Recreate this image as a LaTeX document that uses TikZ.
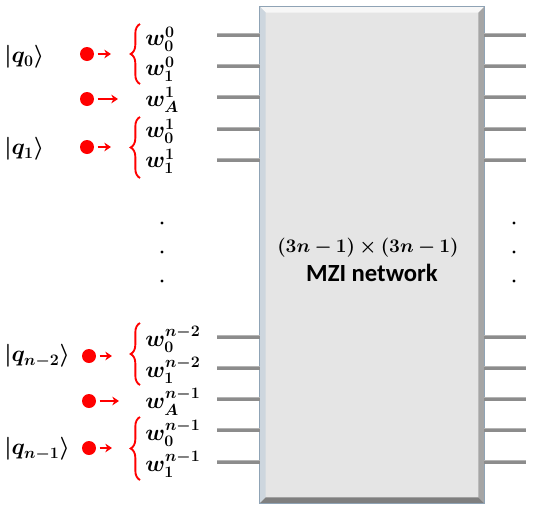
\documentclass[tikz,border=0pt]{standalone}
\usepackage{amsmath,bm}
\usepackage{fontspec}
\newfontfamily\labelfont{Carlito}
\usepackage{tikz}
\usetikzlibrary{arrows.meta,calc,positioning,decorations.pathreplacing}
\definecolor{boxfill}{HTML}{E5E5E5}
\definecolor{boxedge}{HTML}{8FA3B5}
\definecolor{bevdark}{HTML}{7F7F7F}
\definecolor{bevlight}{HTML}{F7F7F7}
\definecolor{portgray}{HTML}{8C8C8C}
\definecolor{porthilite}{HTML}{B4B4B4}
\definecolor{red}{HTML}{FF0000}
\tikzset{
  mzibox/.style={draw=boxedge,fill=boxfill,line width=.6pt,inner sep=0pt,minimum width=168pt,minimum height=372pt},
  port/.style={draw=portgray,line width=2.8pt},
  porthi/.style={draw=porthilite,line width=.8pt},
  qlabel/.style={font=\fontsize{17.5}{19}\selectfont,anchor=west,inner sep=0pt},
  wlabel/.style={font=\fontsize{16.5}{18}\selectfont,anchor=west,inner sep=0pt},
  photon/.style={circle,fill=red,inner sep=0pt,minimum size=10.5pt},
  feed/.style={-{Stealth[length=5pt,width=6.5pt]},draw=red,line width=1.8pt,shorten <=2.5pt},
  rbrace/.style={draw=red,line width=1.4pt,decorate,decoration={brace,amplitude=7pt}},
  vdot/.style={circle,fill=black,inner sep=0pt,minimum size=2.6pt}
}
\begin{document}
\begin{tikzpicture}[x=.75pt,y=-.75pt]
  \useasboundingbox (0,0) rectangle (539,511);
  % network block with bevelled edges
  \node[mzibox] (mzi) at (372,255) {};
  \fill[bevlight] (mzi.north west) -- (mzi.north east) -- ($(mzi.north east)+(-6,6)$) -- ($(mzi.north west)+(6,6)$) -- cycle;
  \fill[boxedge!45] (mzi.north west) -- ($(mzi.north west)+(6,6)$) -- ($(mzi.south west)+(6,-6)$) -- (mzi.south west) -- cycle;
  \fill[bevdark!70] (mzi.north east) -- ($(mzi.north east)+(-6,6)$) -- ($(mzi.south east)+(-6,-6)$) -- (mzi.south east) -- cycle;
  \fill[bevdark] (mzi.south west) -- ($(mzi.south west)+(6,-6)$) -- ($(mzi.south east)+(-6,-6)$) -- (mzi.south east) -- cycle;
  \draw[draw=boxedge,line width=.6pt] (mzi.north west) rectangle (mzi.south east);
  \node[font=\fontsize{14.5}{17}\selectfont,inner sep=0pt] (size) at (368,248) {$\bm{(3n-1)\times(3n-1)}$};
  \node[font=\labelfont\bfseries\fontsize{18.5}{20}\selectfont,inner sep=0pt] (name) at (372,273) {MZI network};

  % input and output ports
  \foreach \y [count=\i] in {35,66,97,129,160,337,368,399,430,462} {
    \coordinate (in\i) at (217,\y);
    \coordinate (out\i) at (526,\y);
    \draw[port] (in\i) -- (in\i -| mzi.west);
    \draw[porthi] ($(in\i)+(0,-1.2)$) -- ($(in\i -| mzi.west)+(0,-1.2)$);
    \draw[port] (out\i -| mzi.east) -- (out\i);
    \draw[porthi] ($(out\i -| mzi.east)+(0,-1.2)$) -- ($(out\i)+(0,-1.2)$);
  }

  % ellipsis
  \foreach \y [count=\i] in {223,252,281} {
    \node[vdot] (ldot\i) at (162,\y) {};
    \node[vdot] (rdot\i) at (514,\y) {};
  }

  % qubit labels
  \node[qlabel] (q0) at (4,57) {$\bm{|q_0\rangle}$};
  \node[qlabel] (q1) at (4,149) {$\bm{|q_1\rangle}$};
  \node[qlabel] (qn2) at (4,356) {$\bm{|q_{n-2}\rangle}$};
  \node[qlabel] (qn1) at (4,449) {$\bm{|q_{n-1}\rangle}$};

  % wires
  \node[wlabel] (w00) at (145,39) {$\bm{w_0^0}$};
  \node[wlabel] (w10) at (145,69) {$\bm{w_1^0}$};
  \node[wlabel] (wA1) at (145,100) {$\bm{w_A^1}$};
  \node[wlabel] (w01) at (145,131) {$\bm{w_0^1}$};
  \node[wlabel] (w11) at (145,161) {$\bm{w_1^1}$};
  \node[wlabel] (w0n2) at (145,339) {$\bm{w_0^{n-2}}$};
  \node[wlabel] (w1n2) at (145,370) {$\bm{w_1^{n-2}}$};
  \node[wlabel] (wAn1) at (145,402) {$\bm{w_A^{n-1}}$};
  \node[wlabel] (w0n1) at (145,433) {$\bm{w_0^{n-1}}$};
  \node[wlabel] (w1n1) at (145,464) {$\bm{w_1^{n-1}}$};

  % photons, feeds and braces
  \node[photon] (p0) at (87,54) {};
  \node[photon] (pA1) at (87,99) {};
  \node[photon] (p1) at (87,147) {};
  \node[photon] (pn2) at (89,356) {};
  \node[photon] (pAn1) at (89,401) {};
  \node[photon] (pn1) at (89,448) {};
  \coordinate (a0) at (111,54);
  \coordinate (aA1) at (118,99);
  \coordinate (a1) at (111,147);
  \coordinate (an2) at (112,356);
  \coordinate (aAn1) at (119,401);
  \coordinate (an1) at (112,448);
  \draw[feed] (p0) -- (a0);
  \draw[feed] (pA1) -- (aA1);
  \draw[feed] (p1) -- (a1);
  \draw[feed] (pn2) -- (an2);
  \draw[feed] (pAn1) -- (aAn1);
  \draw[feed] (pn1) -- (an1);
  \draw[rbrace] (140,84) -- (140,24);
  \draw[rbrace] (140,178) -- (140,117);
  \draw[rbrace] (140,385) -- (140,323);
  \draw[rbrace] (140,480) -- (140,417);
\end{tikzpicture}
\end{document}
